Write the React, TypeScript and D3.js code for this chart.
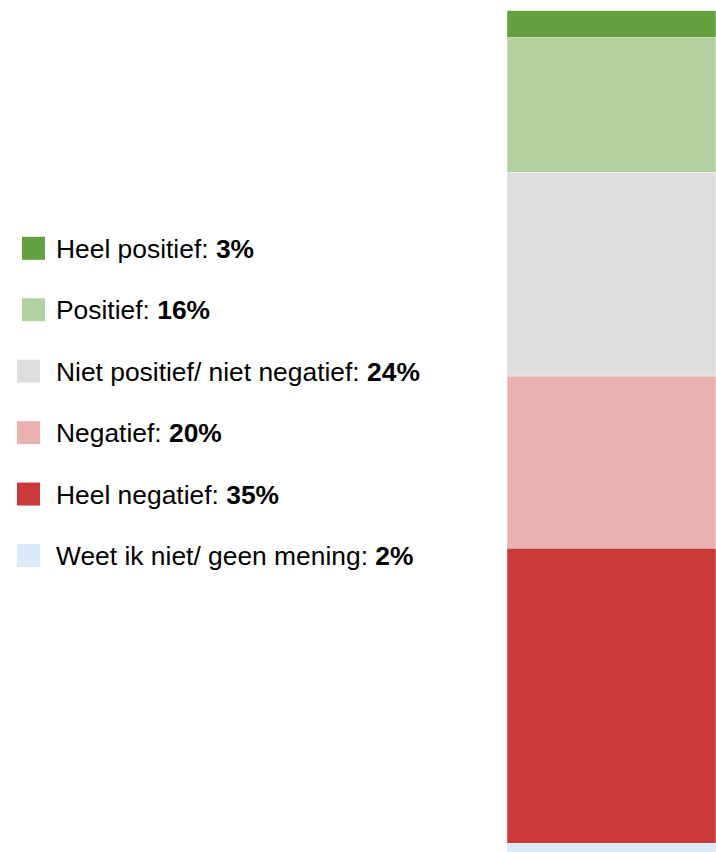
import React from "react";
import * as d3 from "d3";

const categories = [
  "Heel positief",
  "Positief",
  "Niet positief/ niet negatief",
  "Negatief",
  "Heel negatief",
  "Weet ik niet/ geen mening",
];
const values = [3.2, 15.9, 24.0, 20.3, 34.8, 1.8];
const labels = ["3%", "16%", "24%", "20%", "35%", "2%"];
const colors = ["#63a03f", "#b3d0a0", "#dddfde", "#e9b2b1", "#cb3939", "#daeaf9"];

const W = 716;
const H = 852;

export default function App() {
  const total = d3.sum(values);
  const y = d3.scaleLinear().domain([0, total]).range([10.7, 858.5]);
  const stacks: { start: number; end: number }[] = [];
  let acc = 0;
  values.forEach((v) => {
    stacks.push({ start: acc, end: acc + v });
    acc += v;
  });
  const legendY = d3
    .scalePoint<number>()
    .domain(d3.range(categories.length))
    .range([248.3, 555.5]);
  const squareX = [22, 22, 17, 17, 17, 17];

  return (
    <div style={{ position: "absolute", left: 0, top: 0 }}>
      <svg width={W} height={H} style={{ display: "block" }}>
        <rect width={W} height={H} fill="#ffffff" />
        {stacks.map((s, i) => (
          <rect
            key={i}
            x={507}
            width={W - 507}
            y={y(s.start)}
            height={y(s.end) - y(s.start)}
            fill={colors[i]}
            stroke="#ffffff"
            strokeWidth={0.4}
          />
        ))}
        {categories.map((c, i) => {
          const cy = legendY(i) as number;
          return (
            <g key={c}>
              <rect x={squareX[i]} y={cy - 11.5} width={23} height={23} fill={colors[i]} />
              <text
                x={56}
                y={cy}
                dy="0.36em"
                fontFamily="'Liberation Sans', Arial, sans-serif"
                fontSize={26.4}
                fill="#000000"
              >
                {c}:{" "}
                <tspan fontWeight="bold">{labels[i]}</tspan>
              </text>
            </g>
          );
        })}
      </svg>
    </div>
  );
}
